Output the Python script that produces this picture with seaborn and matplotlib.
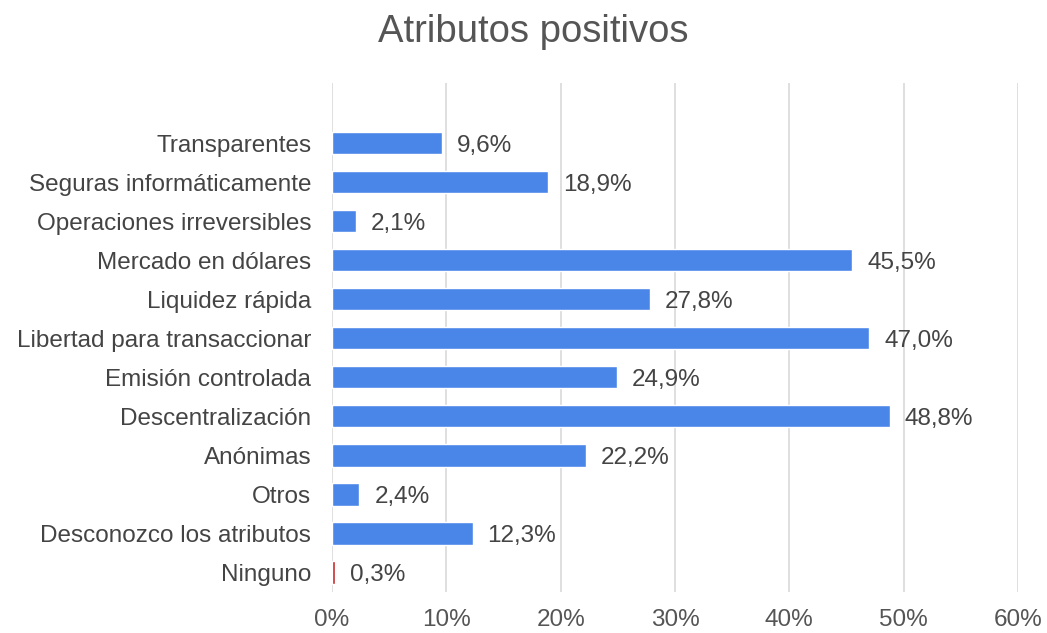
import matplotlib
matplotlib.use("Agg")
import matplotlib.pyplot as plt
import seaborn as sns
import pandas as pd

categories = [
    "Transparentes",
    "Seguras informáticamente",
    "Operaciones irreversibles",
    "Mercado en dólares",
    "Liquidez rápida",
    "Libertad para transaccionar",
    "Emisión controlada",
    "Descentralización",
    "Anónimas",
    "Otros",
    "Desconozco los atributos",
    "Ninguno",
]
values = [9.6, 18.9, 2.1, 45.5, 27.8, 47.0, 24.9, 48.8, 22.2, 2.4, 12.3, 0.3]
x_ticks = [0, 10, 20, 30, 40, 50, 60]
x_tick_labels = ["0%", "10%", "20%", "30%", "40%", "50%", "60%"]

BLUE = "#4a86e8"
RED = "#c62828"
TEXT = "#444444"

df = pd.DataFrame({"atributo": categories, "pct": values})
palette = {c: (RED if c == "Ninguno" else BLUE) for c in categories}

sns.set_theme(style="white")
plt.rcParams["font.family"] = ["Liberation Sans", "DejaVu Sans"]

W, H = 1047, 633
fig = plt.figure(figsize=(W / 100, H / 100), dpi=100)
ax = fig.add_axes([332 / W, (H - 592) / H, (1018 - 332) / W, (592 - 83) / H])

sns.barplot(data=df, x="pct", y="atributo", hue="atributo", palette=palette,
            order=categories, orient="h", width=0.57, legend=False, ax=ax,
            saturation=1)

ax.set_xlim(0, 60)
ax.set_ylim(len(categories) - 0.5, -1.54)
ax.set_xticks(x_ticks)
ax.set_xticklabels(x_tick_labels)
ax.xaxis.grid(True, color="#d9d9d9", linewidth=1.2)
ax.set_axisbelow(True)
for s in ax.spines.values():
    s.set_visible(False)
ax.set_xlabel("")
ax.set_ylabel("")
ax.tick_params(axis="x", length=0, pad=12, labelsize=17.5, labelcolor="#555555")
ax.tick_params(axis="y", length=0, pad=15, labelsize=17.5, labelcolor=TEXT)

for i, v in enumerate(values):
    ax.text(v + 1.3, i, f"{v:.1f}".replace(".", ",") + "%", va="center_baseline",
            ha="left", fontsize=17.5, color=TEXT)

fig.text(533 / W, 1 - 32 / H, "Atributos positivos", ha="center", va="center",
         fontsize=27.5, color="#555555")

fig.savefig("out.png", dpi=100, facecolor="white")
